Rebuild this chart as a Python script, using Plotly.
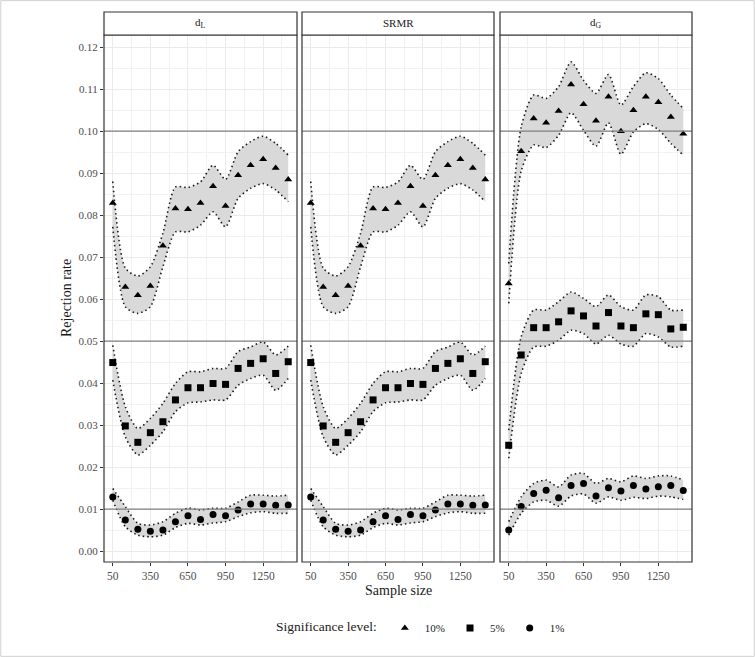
import plotly.graph_objects as go

sample_size = [50, 150, 250, 350, 450, 550, 650, 750, 850, 950, 1050, 1150, 1250, 1350, 1450]
panels = ["d<sub>L</sub>", "SRMR", "d<sub>G</sub>"]
levels = ["10%", "5%", "1%"]
symbols = ["triangle-up", "square", "circle"]
x_ticks = [50, 350, 650, 950, 1250]
y_ticks = [0.00, 0.01, 0.02, 0.03, 0.04, 0.05, 0.06, 0.07, 0.08, 0.09, 0.10, 0.11, 0.12]
nominal = [0.10, 0.05, 0.01]

# d_L
dL_10 = [0.0829, 0.0629, 0.0609, 0.0631, 0.0727, 0.0816, 0.0814, 0.0829, 0.0869, 0.0822, 0.0895, 0.0919, 0.0933, 0.0912, 0.0885]
dL_10_hi = [0.0880, 0.0674, 0.0655, 0.0677, 0.0757, 0.0867, 0.0866, 0.0879, 0.0919, 0.0885, 0.0951, 0.0975, 0.0988, 0.0971, 0.0943]
dL_10_lo = [0.0772, 0.0582, 0.0566, 0.0582, 0.0677, 0.0760, 0.0760, 0.0776, 0.0808, 0.0772, 0.0840, 0.0864, 0.0875, 0.0860, 0.0832]
dL_5 = [0.0449, 0.0298, 0.0259, 0.0282, 0.0308, 0.0360, 0.0389, 0.0389, 0.0399, 0.0397, 0.0435, 0.0447, 0.0458, 0.0423, 0.0451]
dL_5_hi = [0.0490, 0.0344, 0.0292, 0.0316, 0.0352, 0.0399, 0.0427, 0.0427, 0.0435, 0.0435, 0.0475, 0.0486, 0.0498, 0.0467, 0.0488]
dL_5_lo = [0.0407, 0.0272, 0.0229, 0.0252, 0.0284, 0.0332, 0.0353, 0.0355, 0.0360, 0.0360, 0.0395, 0.0411, 0.0419, 0.0383, 0.0411]
dL_1 = [0.0129, 0.0074, 0.0052, 0.0047, 0.0050, 0.0070, 0.0084, 0.0075, 0.0087, 0.0084, 0.0098, 0.0112, 0.0112, 0.0109, 0.0110]
dL_1_hi = [0.0149, 0.0106, 0.0066, 0.0062, 0.0070, 0.0090, 0.0102, 0.0098, 0.0102, 0.0102, 0.0117, 0.0133, 0.0133, 0.0131, 0.0133]
dL_1_lo = [0.0121, 0.0058, 0.0038, 0.0034, 0.0038, 0.0056, 0.0066, 0.0062, 0.0067, 0.0070, 0.0082, 0.0091, 0.0094, 0.0090, 0.0090]

# SRMR
srmr_10 = [0.0829, 0.0629, 0.0609, 0.0631, 0.0727, 0.0816, 0.0814, 0.0829, 0.0869, 0.0822, 0.0895, 0.0919, 0.0933, 0.0912, 0.0885]
srmr_10_hi = [0.0880, 0.0674, 0.0655, 0.0677, 0.0757, 0.0867, 0.0866, 0.0879, 0.0919, 0.0885, 0.0951, 0.0975, 0.0988, 0.0971, 0.0943]
srmr_10_lo = [0.0772, 0.0582, 0.0566, 0.0582, 0.0677, 0.0760, 0.0760, 0.0776, 0.0808, 0.0772, 0.0840, 0.0864, 0.0875, 0.0860, 0.0832]
srmr_5 = [0.0449, 0.0298, 0.0259, 0.0282, 0.0308, 0.0360, 0.0389, 0.0389, 0.0399, 0.0397, 0.0435, 0.0447, 0.0458, 0.0423, 0.0451]
srmr_5_hi = [0.0490, 0.0344, 0.0292, 0.0316, 0.0352, 0.0399, 0.0427, 0.0427, 0.0435, 0.0435, 0.0475, 0.0486, 0.0498, 0.0467, 0.0488]
srmr_5_lo = [0.0407, 0.0272, 0.0229, 0.0252, 0.0284, 0.0332, 0.0353, 0.0355, 0.0360, 0.0360, 0.0395, 0.0411, 0.0419, 0.0383, 0.0411]
srmr_1 = [0.0129, 0.0074, 0.0052, 0.0047, 0.0050, 0.0070, 0.0084, 0.0075, 0.0087, 0.0084, 0.0098, 0.0112, 0.0112, 0.0109, 0.0110]
srmr_1_hi = [0.0149, 0.0106, 0.0066, 0.0062, 0.0070, 0.0090, 0.0102, 0.0098, 0.0102, 0.0102, 0.0117, 0.0133, 0.0133, 0.0131, 0.0133]
srmr_1_lo = [0.0121, 0.0058, 0.0038, 0.0034, 0.0038, 0.0056, 0.0066, 0.0062, 0.0067, 0.0070, 0.0082, 0.0091, 0.0094, 0.0090, 0.0090]

# d_G
dG_10 = [0.0637, 0.0952, 0.1030, 0.1020, 0.1048, 0.1111, 0.1064, 0.1025, 0.1082, 0.1000, 0.1050, 0.1082, 0.1069, 0.1034, 0.0994]
dG_10_hi = [0.0685, 0.1010, 0.1086, 0.1078, 0.1106, 0.1165, 0.1121, 0.1090, 0.1135, 0.1062, 0.1106, 0.1139, 0.1125, 0.1086, 0.1054]
dG_10_lo = [0.0590, 0.0905, 0.0967, 0.0961, 0.0990, 0.1044, 0.1002, 0.0964, 0.1020, 0.0945, 0.0998, 0.1018, 0.1004, 0.0971, 0.0943]
dG_5 = [0.0252, 0.0467, 0.0532, 0.0532, 0.0546, 0.0572, 0.0560, 0.0536, 0.0568, 0.0536, 0.0532, 0.0565, 0.0563, 0.0529, 0.0533]
dG_5_hi = [0.0288, 0.0510, 0.0574, 0.0574, 0.0594, 0.0617, 0.0602, 0.0582, 0.0610, 0.0582, 0.0574, 0.0610, 0.0606, 0.0574, 0.0574]
dG_5_lo = [0.0221, 0.0423, 0.0486, 0.0488, 0.0502, 0.0526, 0.0518, 0.0493, 0.0514, 0.0493, 0.0488, 0.0518, 0.0510, 0.0486, 0.0488]
dG_1 = [0.0050, 0.0106, 0.0137, 0.0145, 0.0127, 0.0156, 0.0161, 0.0131, 0.0151, 0.0143, 0.0156, 0.0148, 0.0153, 0.0156, 0.0144]
dG_1_hi = [0.0070, 0.0129, 0.0161, 0.0169, 0.0153, 0.0181, 0.0185, 0.0161, 0.0173, 0.0165, 0.0179, 0.0173, 0.0179, 0.0179, 0.0169]
dG_1_lo = [0.0038, 0.0090, 0.0117, 0.0121, 0.0107, 0.0131, 0.0136, 0.0114, 0.0129, 0.0121, 0.0128, 0.0125, 0.0131, 0.0129, 0.0123]

data = [
    [(dL_10, dL_10_lo, dL_10_hi), (dL_5, dL_5_lo, dL_5_hi), (dL_1, dL_1_lo, dL_1_hi)],
    [(srmr_10, srmr_10_lo, srmr_10_hi), (srmr_5, srmr_5_lo, srmr_5_hi), (srmr_1, srmr_1_lo, srmr_1_hi)],
    [(dG_10, dG_10_lo, dG_10_hi), (dG_5, dG_5_lo, dG_5_hi), (dG_1, dG_1_lo, dG_1_hi)],
]

W, H = 755, 657
FONT = "Liberation Serif"
px_x = [(104, 297), (302, 494), (500, 692)]
top_px, bot_px = 35, 562
strip_top = 12

fig = go.Figure()
edge = dict(color="#1a1a1a", width=1.6, dash="1.5px,3px", shape="spline", smoothing=0.7)
for p in range(3):
    ax = "" if p == 0 else str(p + 1)
    for k in range(3):
        vals, lo, hi = data[p][k]
        fig.add_trace(go.Scatter(x=sample_size, y=lo, mode="lines", xaxis="x" + ax, yaxis="y" + ax,
                                 line=edge, showlegend=False, hoverinfo="skip"))
        fig.add_trace(go.Scatter(x=sample_size, y=hi, mode="lines", xaxis="x" + ax, yaxis="y" + ax,
                                 line=edge, fill="tonexty", fillcolor="#d9d9d9",
                                 showlegend=False, hoverinfo="skip"))
        fig.add_trace(go.Scatter(x=sample_size, y=vals, mode="markers", xaxis="x" + ax, yaxis="y" + ax,
                                 marker=dict(symbol=symbols[k], color="black", size=7),
                                 name=levels[k], showlegend=(p == 0)))

layout = dict(width=W, height=H, margin=dict(l=0, r=0, t=0, b=0),
              paper_bgcolor="white", plot_bgcolor="white",
              font=dict(family=FONT, color="#333333"))
shapes = []
annotations = []
for p in range(3):
    ax = "" if p == 0 else str(p + 1)
    x0, x1 = px_x[p]
    layout["xaxis" + ax] = dict(domain=[x0 / W, x1 / W], range=[-20, 1520], tickvals=x_ticks,
                                ticktext=[str(v) for v in x_ticks],
                                showgrid=True, gridcolor="#ebebeb", gridwidth=1,
                                minor=dict(tickvals=[200, 500, 800, 1100, 1400], showgrid=True, gridcolor="#f2f2f2", gridwidth=1),
                                ticks="outside", ticklen=3, tickcolor="#333333",
                                tickfont=dict(size=11.5, color="#4d4d4d", family=FONT),
                                zeroline=False, showline=False, anchor="y" + ax)
    layout["yaxis" + ax] = dict(domain=[1 - bot_px / H, 1 - top_px / H], range=[-0.0026, 0.1229],
                                tickvals=y_ticks, ticktext=["%.2f" % v for v in y_ticks],
                                showticklabels=(p == 0),
                                showgrid=True, gridcolor="#ebebeb", gridwidth=1,
                                minor=dict(dtick=0.005, tick0=0.005, showgrid=True, gridcolor="#f2f2f2", gridwidth=1),
                                ticks="outside" if p == 0 else "", ticklen=3, tickcolor="#333333",
                                tickfont=dict(size=11, color="#4d4d4d", family=FONT),
                                zeroline=False, showline=False, anchor="x" + ax)
    for v in nominal:
        shapes.append(dict(type="line", xref="x" + ax + " domain", yref="y" + ax, x0=0, x1=1, y0=v, y1=v,
                           line=dict(color="#7f7f7f", width=1.2), layer="above"))
    # panel border
    shapes.append(dict(type="rect", xref="paper", yref="paper", x0=x0 / W, x1=x1 / W,
                       y0=1 - bot_px / H, y1=1 - top_px / H, line=dict(color="#333333", width=1.2), layer="above"))
    # strip
    shapes.append(dict(type="rect", xref="paper", yref="paper", x0=x0 / W, x1=x1 / W,
                       y0=1 - top_px / H, y1=1 - strip_top / H, fillcolor="white",
                       line=dict(color="#333333", width=1.2), layer="above"))
    annotations.append(dict(text=panels[p], xref="paper", yref="paper", x=(x0 + x1) / 2 / W,
                            y=1 - (top_px + strip_top) / 2 / H, xanchor="center", yanchor="middle",
                            showarrow=False, font=dict(size=11, color="#1a1a1a", family=FONT)))

# light outer frame
shapes.append(dict(type="rect", xref="paper", yref="paper", x0=0.001, x1=0.999, y0=0.001, y1=0.999,
                   line=dict(color="#d0d0d0", width=1), layer="above"))

annotations.append(dict(text="Rejection rate", xref="paper", yref="paper", x=66 / W, y=1 - 298 / H,
                        xanchor="center", yanchor="middle",
                        textangle=-90, showarrow=False, font=dict(size=14, color="#1a1a1a", family=FONT)))
annotations.append(dict(text="Sample size", xref="paper", yref="paper", x=398 / W, y=1 - 590 / H,
                        xanchor="center", yanchor="middle",
                        showarrow=False, font=dict(size=14, color="#1a1a1a", family=FONT)))
layout["shapes"] = shapes
layout["annotations"] = annotations
layout["legend"] = dict(orientation="h", x=274 / W, xanchor="left", y=1 - 628 / H, yanchor="middle",
                        traceorder="normal",
                        title=dict(text="Significance level:", side="left", font=dict(size=13.5, color="#1a1a1a")),
                        font=dict(size=11, color="#1a1a1a", family=FONT), itemwidth=30,
                        bgcolor="rgba(0,0,0,0)")
fig.update_layout(**layout)
fig.write_html("out.html")
